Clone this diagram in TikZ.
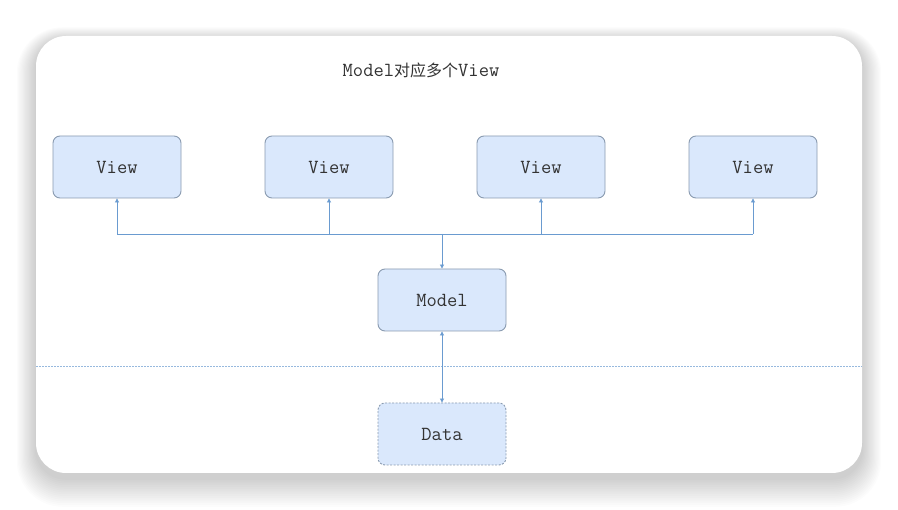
\documentclass[tikz,border=0pt]{standalone}
\usepackage{fontspec}
\newfontfamily\cjk{Noto Sans CJK SC}
\usetikzlibrary{arrows.meta}
\definecolor{boxfill}{HTML}{DAE8FC}
\definecolor{boxline}{HTML}{8A9BB0}
\definecolor{wire}{HTML}{6A9BD0}
\tikzset{
  box/.style={draw=boxline, fill=boxfill, rounded corners=7pt, line width=0.9pt,
    minimum width=128pt, minimum height=62pt, inner sep=0pt,
    font=\ttfamily\fontsize{20}{22}\selectfont, text=black!80},
  databox/.style={box, dashed, dash pattern=on 2pt off 1.5pt},
  wirel/.style={draw=wire, line width=0.8pt},
  arr/.style={wirel, -{Triangle[length=4pt,width=4pt]}},
  darr/.style={wirel, {Triangle[length=4pt,width=4pt]}-{Triangle[length=4pt,width=4pt]}},
}
\begin{document}
\begin{tikzpicture}[x=1pt,y=-1pt]
\useasboundingbox (0,0) rectangle (898,510);
\fill[white] (0,0) rectangle (898,510);
% shadow
\foreach \i in {1,...,16}{
  \fill[black, opacity=0.011, rounded corners={30pt+\i pt}]
    ({36-1.2*\i},{40-0.8*\i}) rectangle ({862+1.2*\i},{478+1.8*\i});
}
\fill[white, rounded corners=30pt] (36,36) rectangle (862,473);
% title
\node[text=black!80] (title) at (421,70) {\ttfamily\fontsize{20}{22}\selectfont Model{\cjk\fontsize{16}{18}\selectfont 对应多个}View};
% separator
\draw[wire!70, line width=0.6pt, dash pattern=on 1.5pt off 1.5pt] (36,366) coordinate (sepl) -- (862,366) coordinate (sepr);
% nodes
\node[box] (v1) at (117,167) {View};
\node[box] (v2) at (329,167) {View};
\node[box] (v3) at (541,167) {View};
\node[box] (v4) at (753,167) {View};
\node[box] (model) at (442,300) {Model};
\node[databox] (data) at (442,434) {Data};
% bus
\coordinate (b1) at (117,234);
\coordinate (b2) at (329,234);
\coordinate (b3) at (541,234);
\coordinate (b4) at (753,234);
\coordinate (bm) at (442,234);
\draw[wirel] (b1) -- (b4);
\draw[arr] (b1) -- (v1.south);
\draw[arr] (b2) -- (v2.south);
\draw[arr] (b3) -- (v3.south);
\draw[arr] (b4) -- (v4.south);
\draw[arr] (bm) -- (model.north);
\draw[darr] (model.south) -- (data.north);
\end{tikzpicture}
\end{document}
